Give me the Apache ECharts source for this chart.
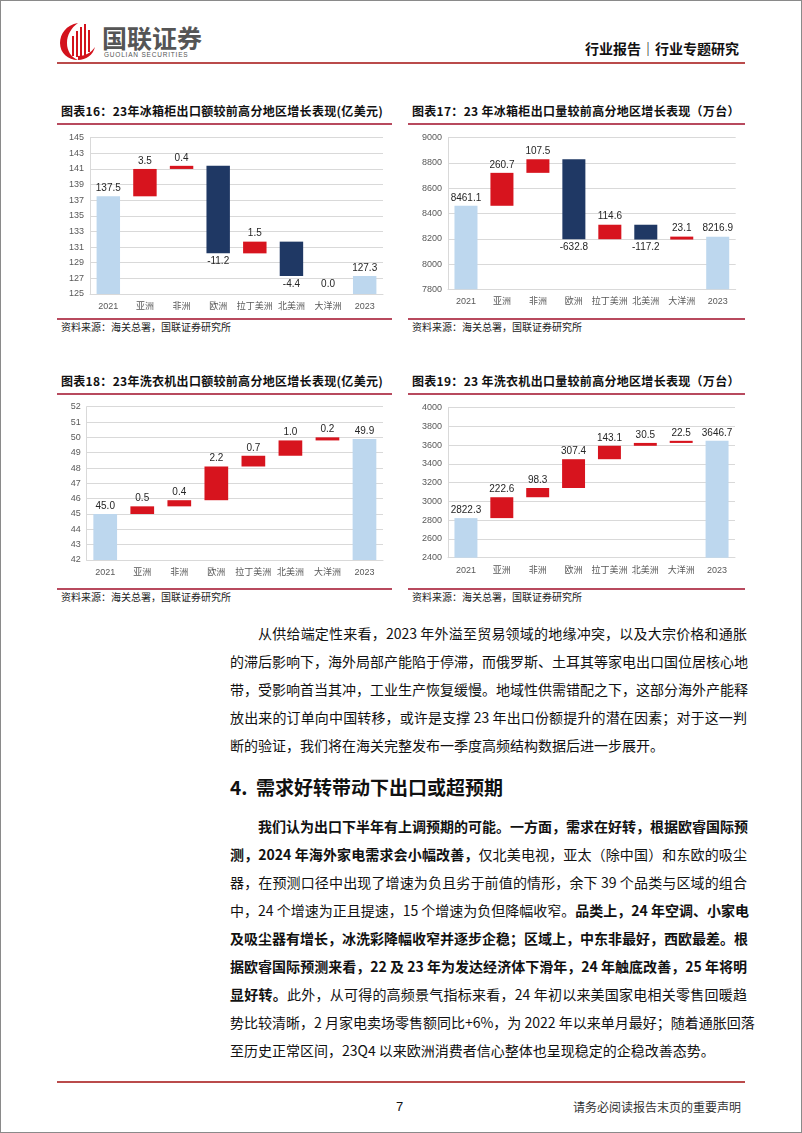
<!DOCTYPE html>
<html><head><meta charset="utf-8">
<script src="https://cdn.jsdelivr.net/npm/echarts@6/dist/echarts.min.js"></script>
<style>
html,body{margin:0;padding:0;background:#fff;}
body{width:802px;height:1133px;position:relative;overflow:hidden;font-family:"Noto Sans CJK SC","Noto Sans",sans-serif;color:#111;}
#frame{position:absolute;left:0;top:0;width:800px;height:1131px;border:1px solid #8a8a8a;}
.abs{position:absolute;}
.hline{position:absolute;height:2px;background:#BA4B4B;}
.ctitle{position:absolute;font-weight:700;font-size:12px;white-space:nowrap;color:#111;letter-spacing:0.3px;}
.cline{position:absolute;height:1.5px;background:#B84A5E;}
.src{position:absolute;font-size:10px;color:#222;white-space:nowrap;}
.chart{position:absolute;width:350px;height:200px;}
.ln{position:absolute;left:230px;width:517px;font-size:14px;line-height:20px;height:20px;white-space:nowrap;text-align:justify;text-align-last:justify;}
.ln.ind{left:258px;width:489px;}
.ln.last{text-align-last:left;}
b{font-weight:700;}
</style></head>
<body>
<div id="frame"></div>

<!-- header -->
<svg class="abs" style="left:58px;top:20px" width="42" height="42" viewBox="0 0 42 42">
  <path d="M20 3 C8 5 2 14 2 23 C2 33 10 40 20 40 C13 37 9 31 9 23 C9 15 13 8 20 3 Z" fill="#D3121C"/>
  <path d="M20 40 C28 40 35 35 37 27 C33 33 27 36 20 36 Z" fill="#D3121C"/>
  <rect x="14" y="16" width="2" height="20" fill="#D3121C"/>
  <rect x="18" y="11" width="2" height="26" fill="#D3121C"/>
  <rect x="22" y="7" width="2" height="30" fill="#D3121C"/>
  <rect x="26" y="4" width="2" height="31" fill="#D3121C"/>
  <rect x="30" y="10" width="2" height="22" fill="#D3121C"/>
</svg>
<div class="abs" style="left:102px;top:22px;font-size:25px;font-weight:700;color:#555;white-space:nowrap;line-height:30px;">国联证券</div>
<div class="abs" style="left:104px;top:51px;font-size:6.5px;color:#555;letter-spacing:0.8px;white-space:nowrap;font-family:'Liberation Sans',Arial,sans-serif;">GUOLIAN SECURITIES</div>
<div class="abs" style="left:585px;top:38px;font-size:14px;font-weight:700;color:#111;white-space:nowrap;line-height:20px;">行业报告｜行业专题研究</div>
<div class="hline" style="left:57px;top:62px;width:688px;"></div>

<!-- chart frames -->
<div class="ctitle" style="left:61px;top:102px;">图表16：23年冰箱柜出口额较前高分地区增长表现(亿美元)</div>
<div class="cline" style="left:57px;top:123px;width:335px;"></div>
<div class="cline" style="left:57px;top:318px;width:335px;"></div>
<div class="src" style="left:61px;top:319px;">资料来源：海关总署，国联证券研究所</div>

<div class="ctitle" style="left:412px;top:102px;">图表17：23 年冰箱柜出口量较前高分地区增长表现（万台）</div>
<div class="cline" style="left:408px;top:123px;width:337px;"></div>
<div class="cline" style="left:408px;top:318px;width:337px;"></div>
<div class="src" style="left:412px;top:319px;">资料来源：海关总署，国联证券研究所</div>

<div class="ctitle" style="left:61px;top:372px;">图表18：23年洗衣机出口额较前高分地区增长表现(亿美元)</div>
<div class="cline" style="left:57px;top:393px;width:335px;"></div>
<div class="cline" style="left:57px;top:588px;width:335px;"></div>
<div class="src" style="left:61px;top:589px;">资料来源：海关总署，国联证券研究所</div>

<div class="ctitle" style="left:412px;top:372px;">图表19：23 年洗衣机出口量较前高分地区增长表现（万台）</div>
<div class="cline" style="left:408px;top:393px;width:337px;"></div>
<div class="cline" style="left:408px;top:588px;width:337px;"></div>
<div class="src" style="left:412px;top:589px;">资料来源：海关总署，国联证券研究所</div>

<div id="c16" class="chart" style="left:50px;top:125px;"></div>
<div id="c17" class="chart" style="left:400px;top:125px;"></div>
<div id="c18" class="chart" style="left:50px;top:395px;"></div>
<div id="c19" class="chart" style="left:400px;top:395px;"></div>

<!-- body text -->
<div class="ln ind" style="top:623px;">从供给端定性来看，2023 年外溢至贸易领域的地缘冲突，以及大宗价格和通胀</div>
<div class="ln" style="top:651px;">的滞后影响下，海外局部产能陷于停滞，而俄罗斯、土耳其等家电出口国位居核心地</div>
<div class="ln" style="top:679px;">带，受影响首当其冲，工业生产恢复缓慢。地域性供需错配之下，这部分海外产能释</div>
<div class="ln" style="top:707px;">放出来的订单向中国转移，或许是支撑 23 年出口份额提升的潜在因素；对于这一判</div>
<div class="ln last" style="top:735px;">断的验证，我们将在海关完整发布一季度高频结构数据后进一步展开。</div>

<div class="abs" style="left:230px;top:774px;font-size:19px;font-weight:700;line-height:26px;white-space:nowrap;">4.&nbsp;&nbsp;需求好转带动下出口或超预期</div>

<div class="ln ind" style="top:816px;"><b>我们认为出口下半年有上调预期的可能。一方面，需求在好转，根据欧睿国际预</b></div>
<div class="ln" style="top:844px;"><b>测，2024 年海外家电需求会小幅改善，</b>仅北美电视，亚太（除中国）和东欧的吸尘</div>
<div class="ln" style="top:872px;">器，在预测口径中出现了增速为负且劣于前值的情形，余下 39 个品类与区域的组合</div>
<div class="ln" style="top:900px;">中，24 个增速为正且提速，15 个增速为负但降幅收窄。<b>品类上，24 年空调、小家电</b></div>
<div class="ln" style="top:928px;"><b>及吸尘器有增长，冰洗彩降幅收窄并逐步企稳；区域上，中东非最好，西欧最差。根</b></div>
<div class="ln" style="top:956px;"><b>据欧睿国际预测来看，22 及 23 年为发达经济体下滑年，24 年触底改善，25 年将明</b></div>
<div class="ln" style="top:984px;"><b>显好转。</b>此外，从可得的高频景气指标来看，24 年初以来美国家电相关零售回暖趋</div>
<div class="ln" style="top:1012px;">势比较清晰，2 月家电卖场零售额同比+6%，为 2022 年以来单月最好；随着通胀回落</div>
<div class="ln last" style="top:1040px;">至历史正常区间，23Q4 以来欧洲消费者信心整体也呈现稳定的企稳改善态势。</div>

<!-- footer -->
<div class="hline" style="left:57px;top:1081px;width:688px;"></div>
<div class="abs" style="left:396px;top:1098px;font-size:13px;line-height:18px;font-family:'Liberation Sans',Arial,sans-serif;">7</div>
<div class="abs" style="left:573px;top:1098px;font-size:12px;line-height:18px;color:#333;white-space:nowrap;">请务必阅读报告末页的重要声明</div>

<script>
// ---- data ----
const categories = ['2021', '亚洲', '非洲', '欧洲', '拉丁美洲', '北美洲', '大洋洲', '2023'];
// first and last entries are totals (2021 / 2023), middle entries are regional changes
const fridgeExportValue  = [137.5, 3.5, 0.4, -11.2, 1.5, -4.4, -0.0, 127.3];          // 亿美元
const fridgeExportVolume = [8461.1, 260.7, 107.5, -632.8, 114.6, -117.2, 23.1, 8216.9]; // 万台
const washerExportValue  = [45.0, 0.5, 0.4, 2.2, 0.7, 1.0, 0.2, 49.9];                 // 亿美元
const washerExportVolume = [2822.3, 222.6, 98.3, 307.4, 143.1, 30.5, 22.5, 3646.7];    // 万台
const axis16 = {min: 125, max: 145, interval: 2};
const axis17 = {min: 7800, max: 9000, interval: 200};
const axis18 = {min: 42, max: 52, interval: 1};
const axis19 = {min: 2400, max: 4000, interval: 200};

const C_TOTAL = '#BDD7EE', C_UP = '#D7141E', C_DOWN = '#1F3864';

function waterfall(vals) {
  const n = vals.length;
  const base = [], tot = [], inc = [], dec = [];
  let run = vals[0];
  for (let i = 0; i < n; i++) {
    if (i === 0 || i === n - 1) {
      base.push(0); tot.push(vals[i]); inc.push('-'); dec.push('-');
    } else {
      const d = vals[i];
      const s = run, e = run + d;
      base.push(Math.min(s, e));
      tot.push('-');
      const neg = d < 0 || Object.is(d, -0);
      if (!neg) { inc.push(d); dec.push('-'); }
      else { dec.push(Math.abs(d)); inc.push('-'); }
      run = e;
    }
  }
  return {base, tot, inc, dec};
}

function build(id, vals, ax, grid) {
  const wf = waterfall(vals);
  const chart = echarts.init(document.getElementById(id), null, {renderer: 'canvas'});
  const lab = {show: true, fontSize: 10, color: '#262626', fontFamily: 'Liberation Sans, Arial, sans-serif', distance: 3};
  const bw = '64%';
  chart.setOption({
    animation: false,
    grid: grid,
    xAxis: {
      type: 'category', data: categories,
      axisLine: {show: true, lineStyle: {color: '#D9D9D9'}},
      axisTick: {show: false},
      axisLabel: {color: '#595959', fontSize: 9, margin: 8, interval: 0,
                  fontFamily: 'Liberation Sans, Arial, Noto Sans CJK SC, sans-serif'}
    },
    yAxis: {
      type: 'value', min: ax.min, max: ax.max, interval: ax.interval,
      axisLine: {show: true, lineStyle: {color: '#D9D9D9'}},
      axisTick: {show: false},
      splitLine: {lineStyle: {color: '#D9D9D9'}},
      axisLabel: {color: '#595959', fontSize: 9, margin: 6, formatter: v => String(v),
                  fontFamily: 'Liberation Sans, Arial, sans-serif'}
    },
    series: [
      {type: 'bar', stack: 'wf', data: wf.base, barWidth: bw, silent: true,
       itemStyle: {color: 'rgba(0,0,0,0)'}},
      {type: 'bar', stack: 'wf', data: wf.tot, barWidth: bw, itemStyle: {color: C_TOTAL},
       label: Object.assign({}, lab, {position: 'top', formatter: p => Number(p.value).toFixed(1)})},
      {type: 'bar', stack: 'wf', data: wf.inc, barWidth: bw, itemStyle: {color: C_UP},
       label: Object.assign({}, lab, {position: 'top', formatter: p => Number(p.value).toFixed(1)})},
      {type: 'bar', stack: 'wf', data: wf.dec, barWidth: bw, itemStyle: {color: C_DOWN},
       label: Object.assign({}, lab, {position: 'bottom',
         formatter: p => (Number(p.value) === 0 ? '0.0' : '-' + Number(p.value).toFixed(1))})}
    ]
  });
}

build('c16', fridgeExportValue, axis16, {left: 40, top: 12.7, width: 293, height: 156.3});
build('c17', fridgeExportVolume, axis17, {left: 48, top: 12.7, width: 287.7, height: 151.6});
build('c18', washerExportValue, axis18, {left: 36.7, top: 11.7, width: 296.3, height: 153.3});
build('c19', washerExportVolume, axis19, {left: 48, top: 12.7, width: 287, height: 150});
</script>
</body></html>
